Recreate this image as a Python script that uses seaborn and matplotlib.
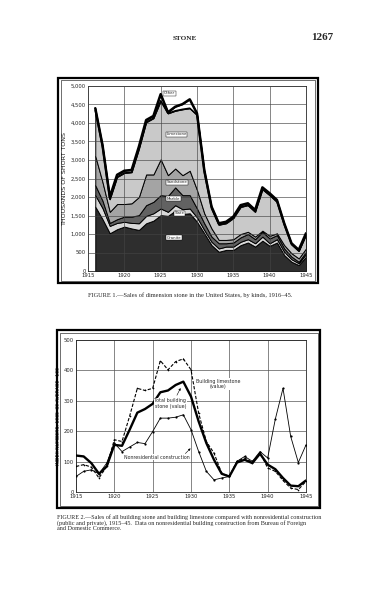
import numpy as np
import pandas as pd
import matplotlib
matplotlib.use("Agg")
import matplotlib.pyplot as plt
from matplotlib.patches import Rectangle
import seaborn as sns

# ---------------- data: Figure 1 (thousands of short tons) ----------------
years1 = list(range(1916, 1946))
granite = [1740, 1400, 1020, 1130, 1200, 1150, 1110, 1290, 1360, 1510, 1490, 1630, 1540, 1560, 1330,
           1020, 700, 520, 570, 570, 700, 770, 660, 820, 680, 770, 430, 250, 160, 390]
slate = [310, 300, 200, 170, 130, 150, 180, 200, 200, 180, 110, 150, 130, 130, 120,
         90, 90, 90, 90, 90, 90, 90, 90, 110, 70, 90, 90, 70, 50, 70]
marble = [270, 200, 80, 100, 140, 170, 220, 290, 310, 360, 430, 480, 380, 360, 240,
          180, 140, 140, 90, 110, 120, 140, 110, 130, 130, 110, 90, 70, 40, 60]
sandstone = [790, 500, 300, 410, 340, 360, 490, 830, 740, 970, 560, 510, 540, 660, 500,
             270, 220, 90, 90, 90, 90, 60, 70, 30, 70, 50, 90, 90, 90, 90]
limestone = [1230, 940, 340, 730, 840, 840, 1300, 1410, 1520, 1580, 1670, 1560, 1780, 1690, 2030,
             1110, 540, 410, 450, 570, 730, 720, 670, 1120, 1100, 850, 550, 240, 200, 370]
other = [60, 60, 60, 60, 60, 60, 60, 60, 60, 180, 30, 110, 140, 240, 40,
         60, 50, 40, 40, 40, 50, 50, 50, 50, 50, 50, 40, 30, 30, 40]
kinds = ["Granite", "Slate", "Marble", "Sandstone", "Limestone", "Other"]

# ---------------- data: Figure 2 (index numbers, 1935-39 = 100) ----------------
years2 = list(range(1915, 1946))
total_stone = [120, 117, 95, 60, 84, 155, 152, 205, 261, 273, 290, 328, 334, 352, 363, 314,
               232, 161, 106, 60, 51, 97, 106, 95, 126, 90, 75, 46, 21, 19, 38]
bldg_limestone = [84, 90, 82, 46, 84, 172, 166, 250, 341, 334, 341, 432, 402, 429, 438, 402,
                  259, 166, 128, 62, 51, 101, 112, 97, 130, 79, 68, 38, 13, 8, 35]
nonresidential = [51, 68, 73, 60, 95, 161, 133, 148, 163, 159, 199, 243, 243, 246, 254, 205,
                  133, 68, 40, 46, 51, 101, 117, 101, 133, 112, 240, 341, 183, 97, 155]

xticks = [1915, 1920, 1925, 1930, 1935, 1940, 1945]
yticks1 = list(range(0, 5001, 500))
yticks2 = list(range(0, 501, 100))

sns.set_style("white")
plt.rcParams["font.family"] = ["DejaVu Sans"]

W, H = 383, 600
fig = plt.figure(figsize=(W / 100, H / 100), dpi=100)


def fx(px):
    return px / W


def fy(py):
    return 1 - py / H


def frame(x0, y0, x1, y1):
    fig.add_artist(Rectangle((fx(x0), fy(y1)), fx(x1) - fx(x0), fy(y0) - fy(y1),
                             transform=fig.transFigure, fill=False, lw=1.6, ec="black"))
    fig.add_artist(Rectangle((fx(x0 + 2.5), fy(y1 - 2.5)), fx(x1 - 2.5) - fx(x0 + 2.5),
                             fy(y0 + 2.5) - fy(y1 - 2.5),
                             transform=fig.transFigure, fill=False, lw=0.4, ec="black"))


# header
fig.text(fx(185), fy(38), "STONE", fontsize=5.2, fontweight="bold",
         family="Liberation Serif", ha="center", va="center")
fig.text(fx(322), fy(38), "1267", fontsize=8, fontweight="bold",
         family="Liberation Serif", ha="center", va="center")

# ---------------- Figure 1 ----------------
frame(58, 78, 318, 283)
ax1 = fig.add_axes([fx(88), fy(271), fx(306) - fx(88), fy(86) - fy(271)])
cols = ["#2e2e2e", "#d9d9d9", "#626262", "#a4a4a4", "#c9c9c9", "#ffffff"]
ax1.stackplot(years1, granite, slate, marble, sandstone, limestone, other,
              colors=cols, edgecolor="black", linewidth=0.7, zorder=2)
cum = np.cumsum(np.array([granite, slate, marble, sandstone, limestone, other]), axis=0)
sns.lineplot(x=years1, y=cum[-1], ax=ax1, color="black", lw=1.8, zorder=4, legend=False)
sns.lineplot(x=years1, y=cum[-2], ax=ax1, color="black", lw=1.1, zorder=4, legend=False)
if ax1.get_legend() is not None:
    ax1.get_legend().remove()
ax1.set_xlim(1915, 1945)
ax1.set_ylim(0, 5000)
ax1.set_xticks(xticks)
ax1.set_yticks(yticks1)
ax1.set_yticklabels([f"{v:,}" for v in yticks1])
ax1.tick_params(labelsize=3.8, length=0, pad=1.5)
ax1.grid(True, color="#444444", lw=0.45, zorder=3)
ax1.set_axisbelow(False)
for s in ax1.spines.values():
    s.set_linewidth(0.6)
ax1.set_ylabel("THOUSANDS OF SHORT TONS", fontsize=4.6, labelpad=3)

lab_kw = dict(fontsize=2.8, ha="center", va="center", zorder=6,
              bbox=dict(boxstyle="square,pad=0.15", fc="white", ec="black", lw=0.3))
ax1.text(1926.2, 4800, "Other", **lab_kw)
ax1.annotate("", xy=(1928.3, 4560), xytext=(1927.0, 4780),
             arrowprops=dict(arrowstyle="-", lw=0.3), zorder=6)
ax1.text(1927.2, 3700, "Limestone", **lab_kw)
ax1.text(1927.2, 2400, "Sandstone", **lab_kw)
ax1.text(1926.8, 1950, "Marble", **lab_kw)
ax1.text(1927.6, 1560, "Slate", **lab_kw)
ax1.text(1926.8, 900, "Granite", **lab_kw)

fig.text(fx(190), fy(295),
         "FIGURE 1.—Sales of dimension stone in the United States, by kinds, 1916–45.",
         fontsize=4.6, family="Liberation Serif", ha="center", va="center")

# ---------------- Figure 2 ----------------
frame(57, 330, 320, 508)
ax2 = fig.add_axes([fx(76), fy(492), fx(306) - fx(76), fy(340) - fy(492)])
df2 = pd.DataFrame({"year": years2, "total": total_stone,
                    "lime": bldg_limestone, "nonres": nonresidential})
sns.lineplot(data=df2, x="year", y="nonres", ax=ax2, color="black", lw=0.6,
             marker="o", markersize=1.6, markeredgewidth=0, zorder=3)
sns.lineplot(data=df2, x="year", y="lime", ax=ax2, color="black", lw=0.8,
             linestyle=(0, (3, 1.5)), marker="o", markersize=1.2, markeredgewidth=0, zorder=4)
sns.lineplot(data=df2, x="year", y="total", ax=ax2, color="black", lw=1.7, zorder=5)
ax2.set_xlim(1915, 1945)
ax2.set_ylim(0, 500)
ax2.set_xticks(xticks)
ax2.set_yticks(yticks2)
ax2.set_yticks(list(range(50, 500, 100)), minor=True)
ax2.tick_params(labelsize=3.8, length=0, pad=1.5)
ax2.tick_params(axis="y", which="minor", length=1.5, width=0.4, direction="out")
ax2.grid(True, color="#555555", lw=0.5, zorder=1)
for s in ax2.spines.values():
    s.set_linewidth(0.6)
ax2.set_xlabel("")
ax2.set_ylabel("INDEX NUMBERS, 1935–39 AVERAGE=100", fontsize=3.3, labelpad=2)

t_kw = dict(fontsize=3.4, ha="center", va="center", zorder=6,
            bbox=dict(boxstyle="square,pad=0.1", fc="white", ec="none"))
ax2.text(1933.5, 355, "Building limestone\n(value)", **t_kw)
ax2.annotate("", xy=(1930.1, 350), xytext=(1931.6, 358),
             arrowprops=dict(arrowstyle="-|>", lw=0.4, color="black", mutation_scale=3))
ax2.text(1927.3, 290, "Total building\nstone (value)", **t_kw)
ax2.annotate("", xy=(1928.8, 350), xytext=(1928.0, 310),
             arrowprops=dict(arrowstyle="-|>", lw=0.4, color="black", mutation_scale=3))
ax2.text(1925.5, 115, "Nonresidential construction", **t_kw)
ax2.annotate("", xy=(1930.2, 150), xytext=(1929.0, 120),
             arrowprops=dict(arrowstyle="-|>", lw=0.4, color="black", mutation_scale=3))

cap2 = ("FIGURE 2.—Sales of all building stone and building limestone compared with nonresidential construction\n"
        "(public and private), 1915–45.  Data on nonresidential building construction from Bureau of Foreign\n"
        "and Domestic Commerce.")
fig.text(fx(57), fy(514), cap2, fontsize=4.4, family="Liberation Serif",
         ha="left", va="top", linespacing=1.0)

fig.savefig("out.png", dpi=100, facecolor="white")
